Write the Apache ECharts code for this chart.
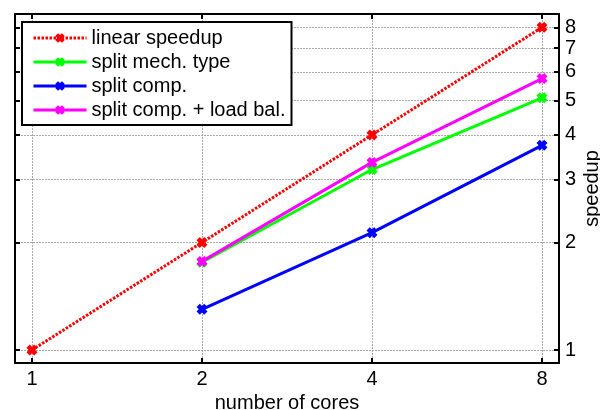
<!DOCTYPE html>
<html>
<head>
<meta charset="utf-8">
<script src="https://cdn.jsdelivr.net/npm/echarts@6/dist/echarts.min.js"></script>
<style>
  html, body { margin: 0; padding: 0; background: #fff; }
  #chart { width: 600px; height: 410px; }
</style>
</head>
<body>
<div id="chart"></div>
<script>
// number of cores and measured speedups (null = not measured)
const cores = [1, 2, 4, 8];
const linearSpeedup = [1, 2, 4, 8];
const splitMechType = [null, 1.76, 3.20, 5.08];
const splitComp = [null, 1.30, 2.13, 3.74];
const splitCompLoadBal = [null, 1.77, 3.35, 5.75];
const xTicks = [1, 2, 4, 8];
const yTicks = [1, 2, 3, 4, 5, 6, 7, 8];

const FONT = "'Liberation Sans', Arial, sans-serif";

// both axes are log scale: plot in log2 space
function toPoints(vals) {
    let pts = [];
    vals.forEach((v, i) => {
        if (v != null) pts.push([Math.log2(cores[i]), Math.log2(v)]);
    });
    return pts;
}

// "x" marker
const crossSymbol = "path://M0,3L3,0L5,2L7,0L10,3L8,5L10,7L7,10L5,8L3,10L0,7L2,5Z";

function makeSeries(name, vals, color, dotted) {
    return {
        name: name,
        type: "line",
        data: toPoints(vals),
        symbol: crossSymbol,
        symbolSize: 11,
        showAllSymbol: true,
        itemStyle: { color: color },
        lineStyle: { color: color, width: 3, type: dotted ? [2.5, 1.5] : "solid" },
        emphasis: { disabled: true },
        animation: false
    };
}

let chart = echarts.init(document.getElementById("chart"));

const xVals = xTicks.map(v => Math.log2(v));
const yVals = yTicks.map(v => Math.log2(v));
const xMin = -0.1, xMax = 3.1;
const yMin = -0.121, yMax = 3.124;

const lineBlack = { show: true, onZero: false, lineStyle: { color: "#000", width: 2 } };
const tickIn = { show: true, inside: true, length: 5, lineStyle: { color: "#000", width: 2 } };
const gridDots = { show: true, lineStyle: { color: "#aaa", width: 1, type: [2, 1] } };

let option = {
    animation: false,
    grid: { left: 15, right: 41, top: 14, bottom: 47, containLabel: false, outerBoundsMode: "none" },
    legend: {
        left: 22,
        top: 22,
        orient: "vertical",
        backgroundColor: "#fff",
        borderColor: "#000",
        borderWidth: 2,
        borderRadius: 0,
        padding: [6, 6, 5, 10],
        itemWidth: 53,
        itemHeight: 12,
        itemGap: 4,
        lineStyle: { width: 3 },
        textStyle: { fontFamily: FONT, fontSize: 20, color: "#000", lineHeight: 20 },
        data: ["linear speedup", "split mech. type", "split comp.", "split comp. + load bal."]
    },
    xAxis: [
        {
            type: "value",
            position: "bottom",
            min: xMin, max: xMax,
            name: "number of cores",
            nameLocation: "middle",
            nameGap: 29,
            nameTextStyle: { fontFamily: FONT, fontSize: 20, color: "#000" },
            axisLine: lineBlack,
            axisTick: Object.assign({ customValues: xVals }, tickIn),
            axisLabel: {
                customValues: xVals,
                margin: 6,
                fontFamily: FONT, fontSize: 20, color: "#000",
                formatter: v => String(Math.round(Math.pow(2, v)))
            },
            splitLine: gridDots
        },
        {
            type: "value",
            position: "top",
            min: xMin, max: xMax,
            axisLine: lineBlack,
            axisTick: Object.assign({ customValues: xVals }, tickIn),
            axisLabel: { show: false },
            splitLine: { show: false }
        }
    ],
    yAxis: [
        {
            type: "value",
            position: "right",
            min: yMin, max: yMax,
            name: "speedup",
            nameLocation: "middle",
            nameRotate: 90,
            nameGap: 23,
            nameMoveOverlap: false,
            nameTextStyle: { fontFamily: FONT, fontSize: 20, color: "#000" },
            axisLine: lineBlack,
            axisTick: Object.assign({ customValues: yVals }, tickIn),
            axisLabel: {
                customValues: yVals,
                margin: 6,
                fontFamily: FONT, fontSize: 20, color: "#000",
                formatter: v => String(Math.round(Math.pow(2, v)))
            },
            splitLine: gridDots
        },
        {
            type: "value",
            position: "left",
            min: yMin, max: yMax,
            axisLine: lineBlack,
            axisTick: Object.assign({ customValues: yVals }, tickIn),
            axisLabel: { show: false },
            splitLine: { show: false }
        }
    ],
    series: [
        makeSeries("split comp.", splitComp, "#0000ff", false),
        makeSeries("split mech. type", splitMechType, "#00ff00", false),
        makeSeries("split comp. + load bal.", splitCompLoadBal, "#ff00ff", false),
        makeSeries("linear speedup", linearSpeedup, "#ff0000", true)
    ]
};
chart.setOption(option);
</script>
</body>
</html>
